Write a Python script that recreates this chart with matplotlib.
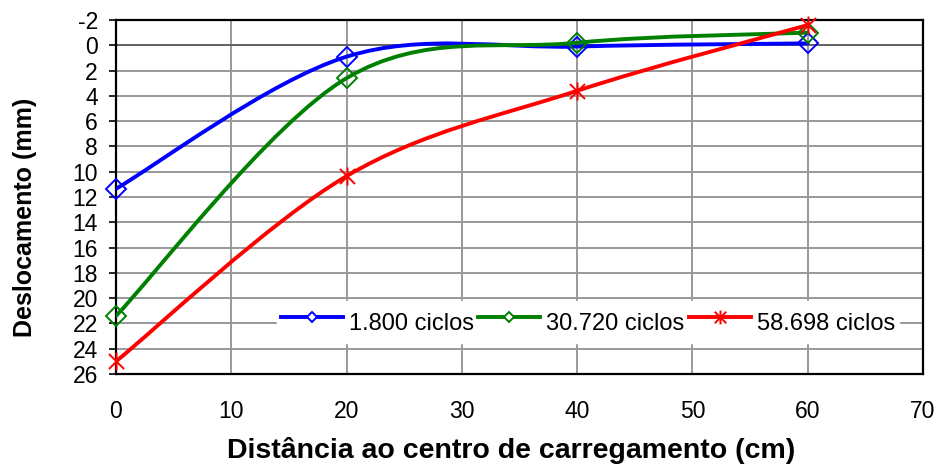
import matplotlib
matplotlib.use("Agg")
import matplotlib.pyplot as plt
import numpy as np
from matplotlib.path import Path
from matplotlib.patches import PathPatch
from matplotlib.lines import Line2D
from matplotlib.markers import MarkerStyle

plt.rcParams['font.family'] = ['Liberation Sans', 'DejaVu Sans']
plt.rcParams['axes.unicode_minus'] = False

# Data
distance = [0, 20, 40, 60]
series_labels = ["1.800 ciclos", "30.720 ciclos", "58.698 ciclos"]
desl_1800 = [11.35, 0.9, 0.1, -0.15]
desl_30720 = [21.4, 2.6, -0.2, -1.0]
desl_58698 = [25.0, 10.35, 3.6, -1.6]
x_ticks = [0, 10, 20, 30, 40, 50, 60, 70]
y_ticks = list(range(-2, 27, 2))

colors = ["#0000FF", "#008000", "#FF0000"]

# Excel-like asterisk marker (x + vertical bar)
star_path = Path(
    [(-1, -1), (1, 1), (-1, 1), (1, -1), (0, -1.2), (0, 1.2)],
    [Path.MOVETO, Path.LINETO, Path.MOVETO, Path.LINETO, Path.MOVETO, Path.LINETO],
)
markers = ["D", "D", MarkerStyle(star_path)]
msizes = [10, 10, 13]
leg_msizes = [5.5, 5.5, 10]


def smooth_path(xs, ys):
    P = np.column_stack([xs, ys]).astype(float)
    n = len(P)
    ext = np.vstack([P[0], P, P[-1]])
    verts = [P[0]]
    codes = [Path.MOVETO]
    for i in range(n - 1):
        p_prev, p0, p1, p_next = ext[i], ext[i + 1], ext[i + 2], ext[i + 3]
        c1 = p0 + (p1 - p_prev) / 6.0
        c2 = p1 - (p_next - p0) / 6.0
        verts += [c1, c2, p1]
        codes += [Path.CURVE4] * 3
    return Path(verts, codes)


fig = plt.figure(figsize=(9.39, 4.68), dpi=100)
ax = fig.add_axes([116 / 939, 1 - 374 / 468, (923 - 116) / 939, (374 - 20) / 468])

ax.set_xlim(0, 70)
ax.set_ylim(26, -2)
ax.set_xticks(x_ticks)
ax.set_yticks(y_ticks)
ax.grid(True, color="#999999", lw=1.4, zorder=0)
ax.set_axisbelow(True)
ax.axhline(0, color="#555555", lw=1.1, zorder=1)

for s in ax.spines.values():
    s.set_color("black")
    s.set_linewidth(1.6)

ax.tick_params(axis="y", length=5, width=1.2, pad=8, labelsize=16.5, direction="out")
ax.tick_params(axis="x", length=0, pad=19, labelsize=16.5)

all_series = [desl_1800, desl_30720, desl_58698]
handles = []
for i, ys in enumerate(all_series):
    patch = PathPatch(smooth_path(distance, ys), fill=False, edgecolor=colors[i],
                      lw=2.8, zorder=3 + i, capstyle="round", joinstyle="round")
    ax.add_patch(patch)
    ax.plot(distance, ys, ls="none", marker=markers[i], ms=msizes[i], mfc="none",
            mec=colors[i], mew=1.4, zorder=3.5 + i, clip_on=False)
    handles.append(Line2D([], [], color=colors[i], lw=2.8, marker=markers[i],
                          ms=leg_msizes[i], mfc="white", mec=colors[i], mew=1.4))

leg = ax.legend(handles, series_labels, ncol=3, loc="upper left",
                bbox_to_anchor=((277 - 116) / 807, (374 - 301) / 354),
                borderaxespad=0, frameon=True, fancybox=False, framealpha=1,
                edgecolor="white", facecolor="white", fontsize=17,
                handlelength=2.63, handletextpad=0.25, columnspacing=0.2,
                borderpad=0.15, handleheight=1.9)
leg.set_zorder(10)

fig.text(511 / 939, 1 - 450 / 468, "Distância ao centro de carregamento (cm)",
         ha="center", va="center", fontsize=20.5, fontweight="bold")
fig.text(25 / 939, 1 - 217 / 468, "Deslocamento (mm)", rotation=90,
         ha="center", va="center", fontsize=18, fontweight="bold")

fig.savefig("out.png", dpi=100)
